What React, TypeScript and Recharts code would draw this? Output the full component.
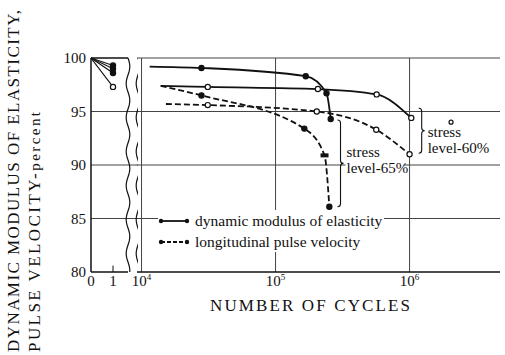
import React from 'react';
import {
  LineChart,
  Line,
  XAxis,
  YAxis,
  CartesianGrid,
  ReferenceLine,
  ReferenceDot,
  Legend,
} from 'recharts';

const FONT = "'Liberation Serif', 'Times New Roman', serif";
const INK = '#111';

// linear part of the x axis (0 and 1 cycle)
const firstTicks = [0, 1];
const firstValues = [99.3, 99.0, 98.6, 97.3];
const firstOpen = [false, false, false, true];

// log part of the x axis
const logTicks = [1e4, 1e5, 1e6];
const yTicks = [80, 85, 90, 95, 100];
const gridValues = [85, 90, 95];

const modulus65Cycles = [11500, 28000, 168000, 240000, 258000];
const modulus65Values = [99.2, 99.07, 98.3, 96.7, 94.3];
const modulus65Marks = ['none', 'filled', 'filled', 'filled', 'filled'];

const pulse65Cycles = [13900, 28000, 164000, 232000, 252000];
const pulse65Values = [97.4, 96.5, 93.4, 90.9, 86.1];
const pulse65Marks = ['none', 'filled', 'filled', 'bar', 'filled'];

const modulus60Cycles = [13900, 31200, 207000, 568000, 1030000];
const modulus60Values = [97.4, 97.3, 97.1, 96.6, 94.4];
const modulus60Marks = ['none', 'open', 'open', 'open', 'open'];

const pulse60Cycles = [15200, 31200, 203000, 564000, 1000000];
const pulse60Values = [95.7, 95.6, 95.0, 93.3, 91.0];
const pulse60Marks = ['none', 'open', 'open', 'open', 'open'];

const strayCycles = 2040000;
const strayValue = 94.0;

const legendLabels = ['dynamic modulus of elasticity', 'longitudinal pulse velocity'];

const toRows = (cycles: number[], values: number[]) =>
  cycles.map((c, i) => ({ cycles: c, value: values[i] }));

const makeDot = (marks: string[]) => (props: any) => {
  const { cx, cy, index } = props;
  const m = marks[index];
  if (m === 'none' || cx == null) return <g key={index} />;
  if (m === 'bar')
    return <rect key={index} x={cx - 4} y={cy - 2} width={8} height={4} fill={INK} />;
  return (
    <circle
      key={index}
      cx={cx}
      cy={cy}
      r={2.6}
      fill={m === 'open' ? '#fff' : INK}
      stroke={INK}
      strokeWidth={1.2}
    />
  );
};

// wavy break line drawn along a reference line
function Wave(props: any) {
  const { x1, y1, y2 } = props;
  let d = '';
  for (let y = y1; y <= y2; y += 1) {
    const x = x1 + 1.8 * Math.sin(((y - y1) / 34) * Math.PI * 2);
    d += (d ? ' L ' : 'M ') + x.toFixed(2) + ' ' + y.toFixed(2);
  }
  return <path d={d} fill="none" stroke={INK} strokeWidth={1.2} />;
}

// curly brace with a two-line note; dy = shift of the text below the brace tip
const makeBrace = (lines: string[], masked: boolean, dy: number) => (props: any) => {
  const { x1, y1, y2 } = props;
  const w = 3;
  const ym = (y1 + y2) / 2;
  const d = `M ${x1} ${y1} Q ${x1 + w} ${y1} ${x1 + w} ${y1 + w} L ${x1 + w} ${ym - w}
    Q ${x1 + w} ${ym} ${x1 + 2 * w} ${ym} Q ${x1 + w} ${ym} ${x1 + w} ${ym + w}
    L ${x1 + w} ${y2 - w} Q ${x1 + w} ${y2} ${x1} ${y2}`;
  const tx = x1 + 2 * w + 3;
  return (
    <g>
      {masked && <rect x={tx - 1} y={ym + dy - 4} width={58} height={14} fill="#fff" />}
      <path d={d} fill="none" stroke={INK} strokeWidth={1.1} />
      <text x={tx} y={ym + dy - 6} fontSize={15} fontFamily={FONT} fill={INK}>
        {lines[0]}
      </text>
      <text x={tx} y={ym + dy + 10} fontSize={15} fontFamily={FONT} fill={INK}>
        {lines[1]}
      </text>
    </g>
  );
};

function PowerTick(props: any) {
  const { x, y, payload } = props;
  const exp = Math.round(Math.log10(payload.value));
  return (
    <text x={x} y={y + 11} textAnchor="middle" fontSize={15} fontFamily={FONT} fill={INK}>
      10
      <tspan dy={-6} fontSize={9}>
        {exp}
      </tspan>
    </text>
  );
}

function LegendBox() {
  return (
    <div
      style={{
        background: '#fff',
        fontFamily: FONT,
        fontSize: 15.5,
        lineHeight: '21px',
        color: INK,
        paddingRight: 2,
      }}
    >
      {legendLabels.map((label, i) => (
        <div key={label} style={{ display: 'flex', alignItems: 'center' }}>
          <svg width={32} height={8}>
            <line
              x1={3}
              y1={4}
              x2={29}
              y2={4}
              stroke={INK}
              strokeWidth={1.8}
              strokeDasharray={i === 1 ? '4 2' : undefined}
            />
            <circle cx={3} cy={4} r={2.2} fill={INK} />
            <circle cx={29} cy={4} r={2.2} fill={INK} />
          </svg>
          <span style={{ marginLeft: 5 }}>{label}</span>
        </div>
      ))}
    </div>
  );
}

export default function App() {
  const leftMax = 47 / 22;
  const breakA = 37 / 22;
  return (
    <div style={{ position: 'absolute', left: 0, top: 0, width: 505, height: 355, background: '#fff' }}>
      <svg width={505} height={355} style={{ position: 'absolute', left: 0, top: 0 }}>
        <text
          transform="translate(19,352) rotate(-90)"
          fontSize={17}
          fontFamily={FONT}
          fill={INK}
          textLength={342}
          lengthAdjust="spacing"
        >
          DYNAMIC MODULUS OF ELASTICITY,
        </text>
        <text
          transform="translate(40,352) rotate(-90)"
          fontSize={17}
          fontFamily={FONT}
          fill={INK}
          textLength={240}
          lengthAdjust="spacing"
        >
          PULSE VELOCITY-<tspan fontSize={15}>percent</tspan>
        </text>
        <text
          x={310}
          y={311}
          textAnchor="middle"
          fontSize={17}
          fontFamily={FONT}
          fill={INK}
          textLength={200}
          lengthAdjust="spacing"
        >
          NUMBER OF CYCLES
        </text>
      </svg>

      {/* log part */}
      <LineChart
        width={505}
        height={355}
        margin={{ top: 58, right: 5, bottom: 53, left: 137 }}
        style={{ position: 'absolute', left: 0, top: 0 }}
      >
        <CartesianGrid
          horizontalValues={[85, 90, 95, 100]}
          verticalValues={logTicks}
          stroke="#444"
          strokeWidth={1}
        />
        <XAxis
          dataKey="cycles"
          type="number"
          scale="log"
          domain={[9250, 4730000]}
          allowDataOverflow
          ticks={logTicks}
          height={30}
          tickLine={false}
          tickSize={2}
          tickMargin={1}
          axisLine={{ stroke: INK, strokeWidth: 1.5 }}
          tick={<PowerTick />}
        />
        <YAxis type="number" domain={[80, 100]} ticks={yTicks} hide />
        <ReferenceLine
          segment={[
            { x: 2.9e5, y: 94.2 },
            { x: 2.9e5, y: 86.1 },
          ]}
          shape={makeBrace(['stress', 'level-65%'], true, 0)}
        />
        <ReferenceLine
          segment={[
            { x: 1.17e6, y: 95.3 },
            { x: 1.17e6, y: 91.1 },
          ]}
          shape={makeBrace(['stress', 'level-60%'], false, 12)}
        />
        <Line
          data={toRows(modulus65Cycles, modulus65Values)}
          dataKey="value"
          type="monotone"
          stroke={INK}
          strokeWidth={1.8}
          dot={makeDot(modulus65Marks)}
          isAnimationActive={false}
        />
        <Line
          data={toRows(pulse65Cycles, pulse65Values)}
          dataKey="value"
          type="monotone"
          stroke={INK}
          strokeWidth={1.8}
          strokeDasharray="6 3"
          dot={makeDot(pulse65Marks)}
          isAnimationActive={false}
        />
        <Line
          data={toRows(modulus60Cycles, modulus60Values)}
          dataKey="value"
          type="monotone"
          stroke={INK}
          strokeWidth={1.8}
          dot={makeDot(modulus60Marks)}
          isAnimationActive={false}
        />
        <Line
          data={toRows(pulse60Cycles, pulse60Values)}
          dataKey="value"
          type="monotone"
          stroke={INK}
          strokeWidth={1.8}
          strokeDasharray="6 3"
          dot={makeDot(pulse60Marks)}
          isAnimationActive={false}
        />
        <ReferenceDot x={strayCycles} y={strayValue} r={2} fill="#fff" stroke={INK} strokeWidth={1.2} />
        <Legend
          layout="horizontal"
          align="center"
          verticalAlign="middle"
          content={<LegendBox />}
          wrapperStyle={{ left: 158, top: 210, width: 'auto', height: 'auto' }}
        />
      </LineChart>

      {/* linear part: 0 and 1 cycle */}
      <LineChart
        width={138}
        height={355}
        margin={{ top: 58, right: 0, bottom: 53, left: 0 }}
        style={{ position: 'absolute', left: 0, top: 0 }}
      >
        <CartesianGrid horizontalValues={gridValues} vertical={false} stroke="#444" strokeWidth={1} />
        <XAxis
          dataKey="cycle"
          type="number"
          domain={[0, leftMax]}
          allowDataOverflow
          ticks={firstTicks}
          height={30}
          tickLine={false}
          tickSize={2}
          tickMargin={1}
          axisLine={false}
          tick={{ fontSize: 15, fill: INK, fontFamily: FONT }}
        />
        <YAxis
          type="number"
          domain={[80, 100]}
          ticks={yTicks}
          width={91}
          tickLine={false}
          tickSize={3}
          tickMargin={2}
          axisLine={{ stroke: INK, strokeWidth: 1.5 }}
          tick={{ fontSize: 15, fill: INK, fontFamily: FONT }}
        />
        <ReferenceLine segment={[{ x: 0, y: 100 }, { x: breakA, y: 100 }]} stroke={INK} strokeWidth={1.5} />
        <ReferenceLine segment={[{ x: 0, y: 80 }, { x: breakA, y: 80 }]} stroke={INK} strokeWidth={1.5} />
        <ReferenceLine segment={[{ x: 1, y: 80 }, { x: 1, y: 80.6 }]} stroke={INK} strokeWidth={1} />
        <ReferenceLine segment={[{ x: breakA, y: 100 }, { x: breakA, y: 80 }]} shape={<Wave />} />
        <ReferenceLine segment={[{ x: leftMax, y: 100 }, { x: leftMax, y: 80 }]} shape={<Wave />} />
        {firstValues.map((v, i) => (
          <Line
            key={i}
            data={[
              { cycle: firstTicks[0], value: 100 },
              { cycle: firstTicks[1], value: v },
            ]}
            dataKey="value"
            stroke={INK}
            strokeWidth={1.1}
            dot={makeDot(['none', firstOpen[i] ? 'open' : 'filled'])}
            isAnimationActive={false}
          />
        ))}
      </LineChart>
    </div>
  );
}
